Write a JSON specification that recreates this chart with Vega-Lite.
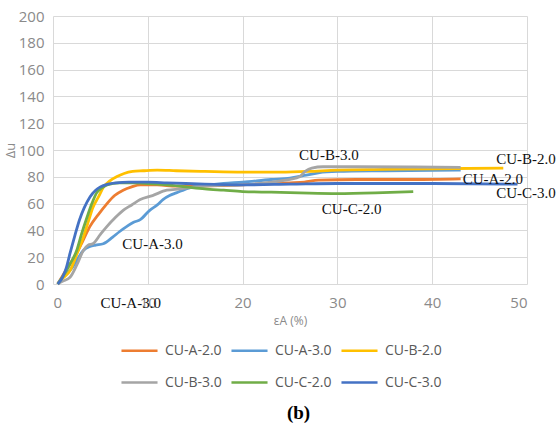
{
  "$schema": "https://vega.github.io/schema/vega-lite/v6.json",
  "width": 474,
  "height": 268,
  "autosize": {"type": "none"},
  "padding": {"left": 53, "top": 16, "right": 31, "bottom": 142},
  "background": "white",
  "config": {
    "view": {"stroke": null},
    "font": "Open Sans"
  },
  "datasets": {
    "curves": [
      {"s": "CU-A-2.0", "x": 0.5, "y": 0}, {"s": "CU-A-2.0", "x": 1, "y": 6}, {"s": "CU-A-2.0", "x": 1.8, "y": 15}, {"s": "CU-A-2.0", "x": 2.5, "y": 23}, {"s": "CU-A-2.0", "x": 3.2, "y": 33}, {"s": "CU-A-2.0", "x": 3.9, "y": 43}, {"s": "CU-A-2.0", "x": 4.8, "y": 52}, {"s": "CU-A-2.0", "x": 5.7, "y": 60}, {"s": "CU-A-2.0", "x": 6.5, "y": 66}, {"s": "CU-A-2.0", "x": 7.4, "y": 70}, {"s": "CU-A-2.0", "x": 8.3, "y": 72.5}, {"s": "CU-A-2.0", "x": 9.2, "y": 74}, {"s": "CU-A-2.0", "x": 11, "y": 74}, {"s": "CU-A-2.0", "x": 13, "y": 73}, {"s": "CU-A-2.0", "x": 15, "y": 73}, {"s": "CU-A-2.0", "x": 18, "y": 73.5}, {"s": "CU-A-2.0", "x": 20, "y": 74}, {"s": "CU-A-2.0", "x": 23, "y": 75}, {"s": "CU-A-2.0", "x": 25, "y": 75.5}, {"s": "CU-A-2.0", "x": 26.5, "y": 76}, {"s": "CU-A-2.0", "x": 28, "y": 77.5}, {"s": "CU-A-2.0", "x": 32, "y": 78}, {"s": "CU-A-2.0", "x": 38, "y": 78}, {"s": "CU-A-2.0", "x": 43, "y": 78.5},
      {"s": "CU-A-3.0", "x": 0.5, "y": 0}, {"s": "CU-A-3.0", "x": 0.8, "y": 3}, {"s": "CU-A-3.0", "x": 1.5, "y": 8}, {"s": "CU-A-3.0", "x": 2.1, "y": 13}, {"s": "CU-A-3.0", "x": 2.7, "y": 20}, {"s": "CU-A-3.0", "x": 3.2, "y": 25}, {"s": "CU-A-3.0", "x": 3.9, "y": 28}, {"s": "CU-A-3.0", "x": 4.5, "y": 29}, {"s": "CU-A-3.0", "x": 5.3, "y": 30}, {"s": "CU-A-3.0", "x": 6.3, "y": 35}, {"s": "CU-A-3.0", "x": 7, "y": 39}, {"s": "CU-A-3.0", "x": 7.8, "y": 43}, {"s": "CU-A-3.0", "x": 8.5, "y": 46}, {"s": "CU-A-3.0", "x": 9.2, "y": 48}, {"s": "CU-A-3.0", "x": 10.2, "y": 55}, {"s": "CU-A-3.0", "x": 11, "y": 59}, {"s": "CU-A-3.0", "x": 11.6, "y": 63}, {"s": "CU-A-3.0", "x": 12.3, "y": 66}, {"s": "CU-A-3.0", "x": 13, "y": 68}, {"s": "CU-A-3.0", "x": 14.5, "y": 72}, {"s": "CU-A-3.0", "x": 16, "y": 73.5}, {"s": "CU-A-3.0", "x": 18, "y": 75}, {"s": "CU-A-3.0", "x": 20, "y": 76}, {"s": "CU-A-3.0", "x": 23, "y": 78}, {"s": "CU-A-3.0", "x": 25, "y": 79}, {"s": "CU-A-3.0", "x": 26.5, "y": 81}, {"s": "CU-A-3.0", "x": 28, "y": 83}, {"s": "CU-A-3.0", "x": 30, "y": 84}, {"s": "CU-A-3.0", "x": 35, "y": 84.5}, {"s": "CU-A-3.0", "x": 43, "y": 85},
      {"s": "CU-B-2.0", "x": 0.5, "y": 0}, {"s": "CU-B-2.0", "x": 1, "y": 4}, {"s": "CU-B-2.0", "x": 1.8, "y": 10}, {"s": "CU-B-2.0", "x": 2.5, "y": 22}, {"s": "CU-B-2.0", "x": 3.2, "y": 35}, {"s": "CU-B-2.0", "x": 3.7, "y": 46}, {"s": "CU-B-2.0", "x": 4.2, "y": 57}, {"s": "CU-B-2.0", "x": 4.8, "y": 65}, {"s": "CU-B-2.0", "x": 5.3, "y": 72}, {"s": "CU-B-2.0", "x": 6, "y": 77}, {"s": "CU-B-2.0", "x": 6.7, "y": 80}, {"s": "CU-B-2.0", "x": 7.5, "y": 82.5}, {"s": "CU-B-2.0", "x": 8.4, "y": 84}, {"s": "CU-B-2.0", "x": 9.5, "y": 84.5}, {"s": "CU-B-2.0", "x": 11, "y": 85}, {"s": "CU-B-2.0", "x": 13, "y": 84.5}, {"s": "CU-B-2.0", "x": 16, "y": 84}, {"s": "CU-B-2.0", "x": 20, "y": 83.5}, {"s": "CU-B-2.0", "x": 24, "y": 83.5}, {"s": "CU-B-2.0", "x": 27, "y": 84}, {"s": "CU-B-2.0", "x": 30, "y": 85}, {"s": "CU-B-2.0", "x": 35, "y": 85.5}, {"s": "CU-B-2.0", "x": 40, "y": 86}, {"s": "CU-B-2.0", "x": 47.5, "y": 86.5},
      {"s": "CU-B-3.0", "x": 0.5, "y": 0}, {"s": "CU-B-3.0", "x": 1, "y": 2}, {"s": "CU-B-3.0", "x": 1.8, "y": 5}, {"s": "CU-B-3.0", "x": 2.5, "y": 14}, {"s": "CU-B-3.0", "x": 3.2, "y": 25}, {"s": "CU-B-3.0", "x": 3.7, "y": 29}, {"s": "CU-B-3.0", "x": 4.2, "y": 30}, {"s": "CU-B-3.0", "x": 5, "y": 37}, {"s": "CU-B-3.0", "x": 5.7, "y": 43}, {"s": "CU-B-3.0", "x": 6.5, "y": 49}, {"s": "CU-B-3.0", "x": 7.4, "y": 55}, {"s": "CU-B-3.0", "x": 8.3, "y": 59}, {"s": "CU-B-3.0", "x": 9.2, "y": 63}, {"s": "CU-B-3.0", "x": 10.5, "y": 66}, {"s": "CU-B-3.0", "x": 12, "y": 70}, {"s": "CU-B-3.0", "x": 13.5, "y": 71}, {"s": "CU-B-3.0", "x": 15, "y": 72.5}, {"s": "CU-B-3.0", "x": 17, "y": 73.5}, {"s": "CU-B-3.0", "x": 20, "y": 74}, {"s": "CU-B-3.0", "x": 23, "y": 76}, {"s": "CU-B-3.0", "x": 25, "y": 78}, {"s": "CU-B-3.0", "x": 26, "y": 80}, {"s": "CU-B-3.0", "x": 26.6, "y": 84}, {"s": "CU-B-3.0", "x": 27.3, "y": 86.5}, {"s": "CU-B-3.0", "x": 28.5, "y": 87.5}, {"s": "CU-B-3.0", "x": 32, "y": 87.5}, {"s": "CU-B-3.0", "x": 38, "y": 87.3}, {"s": "CU-B-3.0", "x": 43, "y": 87},
      {"s": "CU-C-2.0", "x": 0.5, "y": 0}, {"s": "CU-C-2.0", "x": 1, "y": 5}, {"s": "CU-C-2.0", "x": 1.8, "y": 15}, {"s": "CU-C-2.0", "x": 2.5, "y": 25}, {"s": "CU-C-2.0", "x": 3, "y": 37}, {"s": "CU-C-2.0", "x": 3.6, "y": 50}, {"s": "CU-C-2.0", "x": 4.1, "y": 60}, {"s": "CU-C-2.0", "x": 4.6, "y": 68}, {"s": "CU-C-2.0", "x": 5.2, "y": 72}, {"s": "CU-C-2.0", "x": 5.7, "y": 74}, {"s": "CU-C-2.0", "x": 7, "y": 75.5}, {"s": "CU-C-2.0", "x": 8.4, "y": 75.5}, {"s": "CU-C-2.0", "x": 10, "y": 75}, {"s": "CU-C-2.0", "x": 12, "y": 74}, {"s": "CU-C-2.0", "x": 14, "y": 72.5}, {"s": "CU-C-2.0", "x": 16, "y": 71}, {"s": "CU-C-2.0", "x": 18, "y": 70}, {"s": "CU-C-2.0", "x": 20, "y": 69}, {"s": "CU-C-2.0", "x": 23, "y": 68.5}, {"s": "CU-C-2.0", "x": 26, "y": 68}, {"s": "CU-C-2.0", "x": 30, "y": 67.5}, {"s": "CU-C-2.0", "x": 34, "y": 68}, {"s": "CU-C-2.0", "x": 38, "y": 69},
      {"s": "CU-C-3.0", "x": 0.5, "y": 0}, {"s": "CU-C-3.0", "x": 1, "y": 5}, {"s": "CU-C-3.0", "x": 1.4, "y": 12}, {"s": "CU-C-3.0", "x": 1.8, "y": 23}, {"s": "CU-C-3.0", "x": 2.3, "y": 36}, {"s": "CU-C-3.0", "x": 2.8, "y": 48}, {"s": "CU-C-3.0", "x": 3.3, "y": 57}, {"s": "CU-C-3.0", "x": 3.9, "y": 65}, {"s": "CU-C-3.0", "x": 4.5, "y": 70}, {"s": "CU-C-3.0", "x": 5, "y": 72.5}, {"s": "CU-C-3.0", "x": 5.8, "y": 74.5}, {"s": "CU-C-3.0", "x": 6.7, "y": 75.5}, {"s": "CU-C-3.0", "x": 8, "y": 76}, {"s": "CU-C-3.0", "x": 10, "y": 76}, {"s": "CU-C-3.0", "x": 12, "y": 75.5}, {"s": "CU-C-3.0", "x": 14, "y": 75}, {"s": "CU-C-3.0", "x": 16, "y": 74.5}, {"s": "CU-C-3.0", "x": 20, "y": 74}, {"s": "CU-C-3.0", "x": 25, "y": 74.5}, {"s": "CU-C-3.0", "x": 30, "y": 75}, {"s": "CU-C-3.0", "x": 40, "y": 75}, {"s": "CU-C-3.0", "x": 49, "y": 74.5}
    ],
    "labels": [
      {"t": "CU-B-3.0", "x": 29.1, "y": 96.3},
      {"t": "CU-B-2.0", "x": 49.9, "y": 93.3},
      {"t": "CU-A-2.0", "x": 46.4, "y": 78.4},
      {"t": "CU-C-3.0", "x": 49.9, "y": 67.9},
      {"t": "CU-C-2.0", "x": 31.5, "y": 56},
      {"t": "CU-A-3.0", "x": 10.5, "y": 29.9},
      {"t": "CU-A-3.0", "x": 8.2, "y": -14.2}
    ],
    "caption": [
      {"t": "(b)", "x": 25.9, "y": -96}
    ]
  },
  "encoding": {
    "x": {
      "field": "x", "type": "quantitative",
      "scale": {"domain": [0, 50], "nice": false, "zero": false},
      "axis": {
        "values": [0, 10, 20, 30, 40, 50], "title": "εA (%)", "labelOverlap": false,
        "grid": true, "gridColor": "#d9d9d9", "domain": false, "ticks": false,
        "labelFontSize": 15, "labelColor": "#8a8a8a", "labelPadding": 11,
        "titleFontSize": 12, "titleFontWeight": "normal", "titleColor": "#8a8a8a", "titlePadding": 5
      }
    },
    "y": {
      "field": "y", "type": "quantitative",
      "scale": {"domain": [0, 200], "nice": false},
      "axis": {
        "values": [0, 20, 40, 60, 80, 100, 120, 140, 160, 180, 200], "title": "Δu", "labelOverlap": false,
        "grid": true, "gridColor": "#d9d9d9", "domain": false, "ticks": false,
        "labelFontSize": 15, "labelColor": "#8a8a8a", "labelPadding": 9,
        "titleFontSize": 13, "titleFontWeight": "normal", "titleColor": "#8a8a8a",
        "titleX": -36, "titleY": 134
      }
    }
  },
  "layer": [
    {
      "data": {"name": "curves"},
      "mark": {"type": "line", "strokeWidth": 2.8, "interpolate": "monotone"},
      "encoding": {
        "color": {
          "field": "s", "type": "nominal",
          "scale": {
            "domain": ["CU-A-2.0", "CU-A-3.0", "CU-B-2.0", "CU-B-3.0", "CU-C-2.0", "CU-C-3.0"],
            "range": ["#ED7D31", "#5B9BD5", "#FFC000", "#A5A5A5", "#70AD47", "#4472C4"]
          },
          "legend": {
            "title": null, "orient": "none", "direction": "horizontal", "columns": 3,
            "legendX": 67, "legendY": 315,
            "symbolType": "stroke", "symbolSize": 1300, "symbolStrokeWidth": 2.5,
            "labelFontSize": 14, "labelColor": "#595959", "labelOffset": 6,
            "columnPadding": 4, "rowPadding": 5
          }
        }
      }
    },
    {
      "data": {"name": "labels"},
      "mark": {"type": "text", "font": "Liberation Serif", "fontSize": 15, "color": "#111111", "align": "center", "baseline": "middle"},
      "encoding": {
        "text": {"field": "t"}
      }
    },
    {
      "data": {"name": "caption"},
      "mark": {"type": "text", "font": "Liberation Serif", "fontSize": 19, "fontWeight": "bold", "color": "#000000", "align": "center", "baseline": "middle"},
      "encoding": {
        "text": {"field": "t"}
      }
    }
  ]
}
